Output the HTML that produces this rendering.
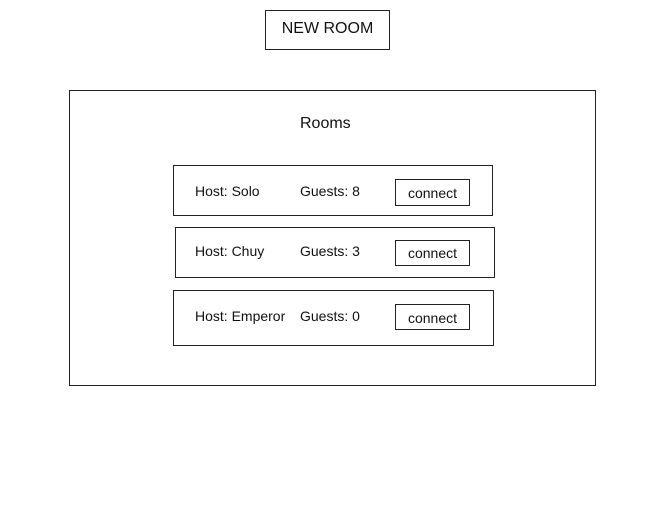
<!DOCTYPE html>
<html><head><meta charset="utf-8"><style>
body{margin:0;width:656px;height:505px;background:#fff;position:relative;font-family:"Liberation Sans",sans-serif;color:#111;overflow:hidden}
.b{position:absolute;border:1.5px solid #222;box-sizing:border-box}
.t{position:absolute;font-size:14px;white-space:nowrap;font-weight:300}
</style></head><body>
<div class="b" style="left:265px;top:10px;width:125px;height:40px"></div>
<div class="t" style="left:265px;top:20px;width:125px;text-align:center;font-size:16px">NEW ROOM</div>
<div class="b" style="left:69px;top:90px;width:527px;height:296px"></div>
<div class="t" style="left:300px;top:115px;font-size:16px">Rooms</div>

<div class="b" style="left:173px;top:165px;width:320px;height:51px"></div>
<div class="t" style="left:195px;top:183px">Host: Solo</div>
<div class="t" style="left:300px;top:183px">Guests: 8</div>
<div class="b" style="left:395px;top:179px;width:75px;height:27px"></div>
<div class="t" style="left:395px;top:185px;width:75px;text-align:center">connect</div>

<div class="b" style="left:175px;top:227px;width:320px;height:51px"></div>
<div class="t" style="left:195px;top:243px">Host: Chuy</div>
<div class="t" style="left:300px;top:243px">Guests: 3</div>
<div class="b" style="left:395px;top:240px;width:75px;height:26px"></div>
<div class="t" style="left:395px;top:245px;width:75px;text-align:center">connect</div>

<div class="b" style="left:173px;top:290px;width:321px;height:56px"></div>
<div class="t" style="left:195px;top:308px">Host: Emperor</div>
<div class="t" style="left:300px;top:308px">Guests: 0</div>
<div class="b" style="left:395px;top:304px;width:75px;height:26px"></div>
<div class="t" style="left:395px;top:310px;width:75px;text-align:center">connect</div>
</body></html>
